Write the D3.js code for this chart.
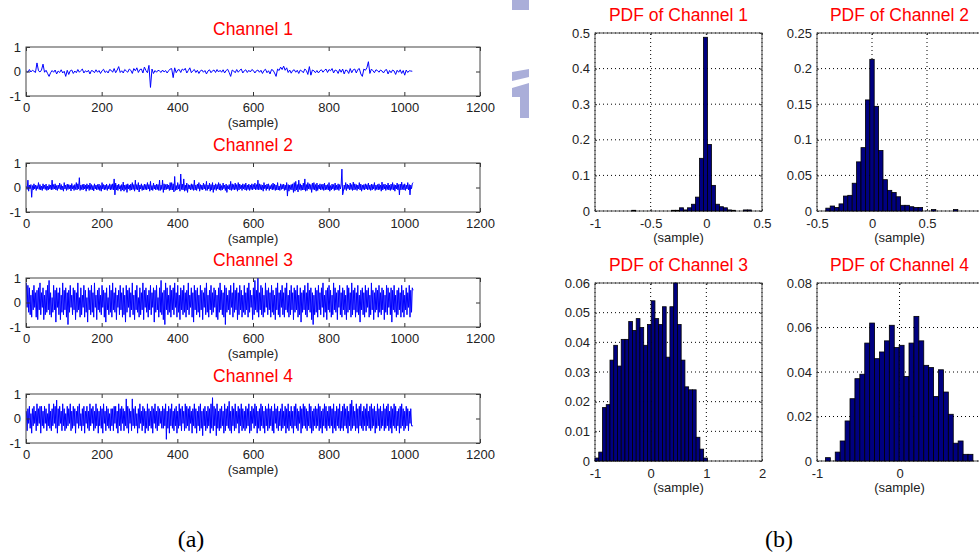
<!DOCTYPE html>
<html><head><meta charset="utf-8">
<script src="https://cdn.jsdelivr.net/npm/d3@7"></script>
<style>body{margin:0;background:#fff} svg{display:block}</style>
</head><body>
<svg id="c" width="979" height="555"></svg>
<script>
// ---------------- DATA ----------------
const channelNames = ["Channel 1", "Channel 2", "Channel 3", "Channel 4"];
const sampleTicks = [0, 200, 400, 600, 800, 1000, 1200];
const ampTicks = [-1, 0, 1];
const sampleStep = [4, 2, 2, 2]; // a value read every n samples, per channel

const ch1 = [
0.02,-0.03,0.08,-0.02,0.05,0.01,-0.04,0.35,0.03,-0.02,0.06,0.3,-0.03,0.05,-0.08,-0.2,
-0.05,0.04,-0.03,0.06,-0.1,0.02,-0.04,0.07,-0.06,0.01,-0.2,0.05,-0.12,0.03,0.06,-0.08,
0.02,-0.05,0.08,-0.03,0.04,0.1,-0.06,0.03,-0.02,0.05,-0.1,0.04,0.02,-0.05,0.07,-0.03,
0.04,-0.08,0.03,0.09,-0.04,0.02,-0.06,0.08,0.05,-0.03,0.12,-0.05,0.06,0.2,-0.04,0.03,
-0.06,0.08,0.02,-0.03,0.1,0.05,-0.08,0.12,0.03,0.15,-0.04,0.08,0.1,-0.06,0.18,0.04,
-0.05,0.25,-0.65,0.1,-0.08,0.04,-0.03,0.05,0.02,-0.04,0.06,-0.02,0.04,-0.06,0.03,0.1,
0.12,-0.25,0.15,-0.05,0.06,0.08,-0.04,0.1,0.05,0.13,-0.06,0.04,0.15,-0.05,0.03,0.08,
-0.04,0.05,-0.08,0.03,0.06,-0.03,0.04,-0.1,0.02,0.07,-0.05,0.03,0.06,-0.04,0.08,-0.02,
0.05,-0.03,0.07,-0.06,0.04,0.09,-0.04,-0.2,0.06,0.02,-0.05,0.08,-0.03,0.05,0.1,-0.06,
0.03,0.07,-0.04,0.05,-0.02,0.08,0.04,-0.06,0.03,0.06,-0.03,0.05,-0.08,0.04,0.09,-0.05,
0.03,-0.1,0.08,0.05,-0.06,-0.2,0.1,0.04,0.18,0.08,0.22,0.05,0.15,-0.04,0.06,-0.07,
0.04,0.07,-0.03,0.05,-0.08,0.06,0.02,-0.05,0.1,0.04,-0.12,0.2,-0.15,0.06,0.03,-0.05,
0.04,-0.06,0.03,0.07,-0.03,0.05,0.1,-0.04,0.08,0.03,0.12,-0.06,0.06,0.04,-0.08,0.09,
-0.03,0.1,-0.1,0.06,0.04,-0.08,0.12,-0.05,0.07,0.1,-0.06,0.08,0.12,-0.1,-0.2,0.1,
0.05,0.15,0.4,-0.08,0.1,0.03,-0.05,0.07,0.04,-0.03,0.06,0.02,-0.06,0.05,0.08,-0.1,
0.04,-0.05,0.06,0.02,-0.12,0.05,-0.03,0.07,-0.08,0.04,-0.15,0.06,-0.04,0.03,0.02,0.01];

const ch2 = [
0.05,-0.08,0.3,-0.15,0.1,-0.05,0.12,-0.4,0.08,-0.1,0.15,-0.06,0.1,-0.12,0.08,-0.05,
0.2,-0.08,0.12,-0.1,0.06,-0.12,0.15,-0.05,0.1,-0.08,0.14,-0.12,0.06,-0.1,0.12,-0.06,
0.1,-0.1,0.3,-0.08,0.12,-0.06,0.15,-0.1,0.08,-0.12,0.1,-0.05,0.18,-0.08,0.12,-0.1,
0.06,-0.15,0.2,-0.06,0.1,-0.12,0.14,-0.08,0.12,-0.05,0.1,-0.14,0.16,-0.06,0.08,-0.12,
0.12,-0.08,0.2,-0.1,0.15,-0.06,0.4,-0.12,0.1,-0.08,0.12,-0.1,0.14,-0.06,0.1,-0.15,
0.15,-0.05,0.1,-0.12,0.18,-0.08,0.12,-0.1,0.08,-0.14,0.15,-0.06,0.1,-0.1,0.12,-0.08,
0.14,-0.12,0.08,-0.15,0.2,-0.06,0.12,-0.1,0.1,-0.08,0.14,-0.12,0.08,-0.06,0.15,-0.1,
0.12,-0.08,0.15,-0.1,0.35,-0.3,0.18,-0.1,0.1,-0.12,0.14,-0.06,0.08,-0.15,0.12,-0.1,
0.22,-0.15,0.1,-0.08,0.12,-0.2,0.15,-0.06,0.1,-0.12,0.14,-0.1,0.2,-0.08,0.12,-0.15,
0.3,-0.08,0.12,-0.1,0.2,-0.18,0.1,-0.06,0.15,-0.12,0.08,-0.1,0.14,-0.08,0.12,-0.1,
0.2,-0.06,0.12,-0.15,0.25,-0.1,0.08,-0.12,0.18,-0.06,0.1,-0.1,0.14,-0.08,0.12,-0.12,
0.3,-0.12,0.1,-0.08,0.3,-0.2,0.15,-0.1,0.12,-0.08,0.14,-0.06,0.1,-0.12,0.2,-0.1,
0.2,-0.1,0.15,-0.18,0.45,-0.12,0.08,-0.1,0.2,-0.06,0.12,-0.15,0.55,-0.08,0.14,-0.1,
0.35,-0.15,0.1,-0.12,0.18,-0.2,0.12,-0.06,0.1,-0.1,0.15,-0.08,0.12,-0.12,0.3,-0.1,
0.1,-0.12,0.14,-0.05,0.2,-0.15,0.12,-0.08,0.1,-0.1,0.18,-0.06,0.12,-0.12,0.25,-0.12,
0.1,-0.06,0.18,-0.15,0.12,-0.1,0.2,-0.2,0.1,-0.08,0.15,-0.12,0.12,-0.06,0.2,-0.1,
0.15,-0.12,0.08,-0.1,0.18,-0.05,0.1,-0.12,0.14,-0.2,0.08,-0.06,0.12,-0.1,0.25,-0.12,
0.15,-0.08,0.12,-0.1,0.18,-0.08,0.12,-0.15,0.2,-0.1,0.14,-0.05,0.1,-0.12,0.15,-0.06,
0.12,-0.1,0.18,-0.12,0.1,-0.08,0.14,-0.12,0.1,-0.08,0.15,-0.1,0.12,-0.06,0.18,-0.1,
0.12,-0.08,0.3,-0.1,0.15,-0.08,0.12,-0.1,0.1,-0.15,0.2,-0.05,0.1,-0.12,0.14,-0.06,
0.15,-0.12,0.08,-0.06,0.12,-0.1,0.18,-0.08,0.14,-0.12,0.1,-0.1,0.2,-0.1,0.06,-0.12,
0.15,-0.08,0.12,-0.06,0.14,-0.12,0.1,-0.1,0.2,-0.35,0.12,-0.15,0.1,-0.08,0.12,-0.1,
0.15,-0.2,0.2,-0.15,0.25,-0.1,0.12,-0.18,0.3,-0.08,0.15,-0.12,0.1,-0.1,0.18,-0.1,
0.35,-0.15,0.12,-0.12,0.2,-0.06,0.15,-0.08,0.12,-0.2,0.18,-0.08,0.2,-0.1,0.12,-0.15,
0.18,-0.12,0.1,-0.06,0.15,-0.1,0.12,-0.08,0.14,-0.12,0.18,-0.1,0.1,-0.08,0.12,-0.1,
0.2,-0.15,0.08,-0.1,0.14,-0.06,0.12,-0.12,0.18,-0.1,0.1,-0.08,0.15,-0.12,0.12,-0.06,
0.1,0.75,-0.3,-0.15,0.1,-0.08,0.2,-0.12,0.14,-0.05,0.1,-0.1,0.18,-0.08,0.12,-0.12,
0.22,-0.1,0.15,-0.08,0.12,-0.12,0.1,-0.06,0.2,-0.1,0.14,-0.15,0.1,-0.08,0.12,-0.1,
0.15,-0.06,0.12,-0.1,0.18,-0.08,0.1,-0.12,0.14,-0.1,0.12,-0.06,0.2,-0.12,0.1,-0.08,
0.12,-0.1,0.15,-0.08,0.1,-0.15,0.22,-0.1,0.12,-0.06,0.14,-0.12,0.1,-0.08,0.18,-0.1,
0.1,-0.12,0.14,-0.08,0.2,-0.1,0.12,-0.15,0.1,-0.06,0.18,-0.1,0.12,-0.3,0.14,-0.1,
0.22,-0.08,0.12,-0.1,0.15,-0.12,0.1,-0.06,0.2,-0.1,0.12,-0.3,0.1,-0.05,0.15,0.2];

const ch3 = [
0.8,-0.2,0.7,-0.4,0.6,-0.5,0.3,-0.6,0.5,-0.3,0.7,-0.2,0.4,-0.6,0.5,-0.7,
0.6,-0.3,0.8,-0.5,0.4,-0.2,0.6,-0.7,0.3,-0.5,0.5,-0.4,0.7,-0.3,0.9,-0.5,
0.4,-0.6,0.2,-0.4,0.7,-0.3,0.5,-0.8,0.6,-0.2,0.4,-0.5,0.6,-0.7,0.3,-0.4,
0.8,-0.5,0.5,-0.3,0.6,-0.6,0.4,-0.9,0.5,-0.4,0.7,-0.2,0.3,-0.5,0.6,-0.3,
0.5,-0.7,0.4,-0.4,0.8,-0.3,0.2,-0.6,0.6,-0.5,0.3,-0.2,0.7,-0.6,0.5,-0.4,
0.2,-0.8,0.6,-0.3,0.5,-0.5,0.7,-0.4,0.4,-0.6,0.8,-0.2,0.3,-0.7,0.5,-0.3,
0.6,-0.4,0.3,-0.5,0.7,-0.2,0.5,-0.6,0.4,-0.8,0.6,-0.3,0.2,-0.5,0.7,-0.4,
0.5,-0.6,0.8,-0.3,0.4,-0.4,0.6,-0.7,0.3,-0.2,0.5,-0.5,0.7,-0.3,0.4,-0.6,
0.6,-0.5,0.3,-0.8,0.7,-0.4,0.5,-0.2,0.6,-0.6,0.4,-0.3,0.8,-0.5,0.3,-0.7,
0.5,-0.3,0.7,-0.4,0.2,-0.6,0.6,-0.5,0.4,-0.3,0.8,-0.7,0.5,-0.2,0.6,-0.4,
0.3,-0.6,0.5,-0.3,0.7,-0.5,0.4,-0.2,0.6,-0.8,0.5,-0.4,0.7,-0.3,0.2,-0.6,
0.6,-0.4,0.9,-0.5,0.4,-0.7,0.5,-0.9,0.8,-0.3,0.6,-0.5,0.3,-0.4,0.7,-0.6,
0.5,-0.3,0.6,-0.5,0.8,-0.2,0.4,-0.6,0.7,-0.4,0.3,-0.7,0.6,-0.3,0.5,-0.5,
0.7,-0.4,0.4,-0.6,0.5,-0.3,0.8,-0.5,0.3,-0.2,0.6,-0.6,0.4,-0.8,0.7,-0.3,
0.5,-0.5,0.6,-0.4,0.3,-0.6,0.7,-0.3,0.5,-0.7,0.4,-0.2,0.6,-0.5,0.8,-0.4,
0.3,-0.6,0.5,-0.3,0.7,-0.5,0.4,-0.4,0.6,-0.2,0.5,-0.6,0.3,-0.7,0.6,-0.4,
0.8,-0.3,0.5,-0.5,0.4,-0.6,0.7,-0.9,0.6,-0.4,0.3,-0.3,0.5,-0.5,0.7,-0.2,
0.4,-0.6,0.8,-0.4,0.5,-0.3,0.6,-0.7,0.4,-0.5,0.7,-0.3,0.5,-0.6,0.3,-0.4,
0.7,-0.5,0.4,-0.3,0.6,-0.6,0.8,-0.4,0.5,-0.2,0.3,-0.7,0.6,-0.5,0.9,-0.3,
0.5,-0.4,1.0,-0.6,0.4,-0.3,0.7,-0.5,0.6,-0.6,0.3,-0.4,0.8,-0.2,0.5,-0.5,
0.6,-0.3,0.4,-0.6,0.7,-0.4,0.5,-0.5,0.3,-0.7,0.6,-0.3,0.8,-0.5,0.4,-0.6,
0.5,-0.2,0.7,-0.5,0.4,-0.6,0.6,-0.3,0.8,-0.4,0.3,-0.6,0.5,-0.5,0.7,-0.3,
0.4,-0.7,0.6,-0.4,0.5,-0.3,0.7,-0.6,0.3,-0.5,0.6,-0.8,0.4,-0.4,0.5,-0.3,
0.7,-0.5,0.4,-0.6,0.8,-0.3,0.5,-0.4,0.6,-0.7,0.4,-0.9,0.3,-0.5,0.6,-0.4,
0.5,-0.6,0.7,-0.3,0.4,-0.5,0.6,-0.2,0.8,-0.6,0.3,-0.4,0.5,-0.7,0.6,-0.3,
0.7,-0.4,0.5,-0.6,0.3,-0.5,0.8,-0.3,0.6,-0.4,0.4,-0.7,0.5,-0.2,0.7,-0.5,
0.4,-0.6,0.6,-0.3,0.5,-0.5,0.3,-0.7,0.7,-0.4,0.6,-0.3,0.4,-0.6,0.8,-0.5,
0.5,-0.3,0.6,-0.6,0.4,-0.4,0.7,-0.5,0.3,-0.8,0.5,-0.3,0.6,-0.5,0.4,-0.6,
0.7,-0.4,0.5,-0.2,0.6,-0.6,0.3,-0.5,0.8,-0.3,0.5,-0.7,0.4,-0.4,0.6,-0.3,
0.5,-0.6,0.7,-0.4,0.4,-0.5,0.6,-0.3,0.5,-0.7,0.3,-0.4,0.7,-0.5,0.6,-0.2,
0.4,-0.5,0.6,-0.8,0.5,-0.3,0.7,-0.4,0.3,-0.6,0.5,-0.5,0.6,-0.3,0.4,-0.6,
0.7,-0.4,0.5,-0.6,0.3,-0.3,0.6,-0.5,0.4,-0.2,0.7,-0.6,0.5,-0.4,0.6,0.5];

const ch4 = [
0.3,-0.5,0.4,-0.2,0.5,-0.4,0.2,-0.6,0.4,-0.3,0.5,-0.2,0.3,-0.5,0.6,-0.3,
0.4,-0.2,0.5,-0.6,0.5,-0.3,0.3,-0.4,0.5,-0.2,0.4,-0.5,0.2,-0.3,0.6,-0.4,
0.3,-0.5,0.4,-0.3,0.6,-0.2,0.5,-0.4,0.75,-0.6,0.4,-0.3,0.5,-0.2,0.3,-0.5,
0.6,-0.3,0.4,-0.5,0.2,-0.4,0.5,-0.3,0.4,-0.2,0.6,-0.5,0.3,-0.4,0.5,-0.3,
0.4,-0.6,0.3,-0.2,0.5,-0.4,0.6,-0.3,0.2,-0.5,0.4,-0.3,0.5,-0.6,0.3,-0.2,
0.5,-0.4,0.3,-0.5,0.6,-0.3,0.4,-0.2,0.5,-0.5,0.3,-0.4,0.6,-0.3,0.4,-0.6,
0.3,-0.3,0.5,-0.4,0.4,-0.6,0.6,-0.2,0.3,-0.5,0.5,-0.3,0.4,-0.4,0.2,-0.5,
0.4,-0.3,0.4,-0.5,0.5,-0.2,0.5,-0.4,0.3,-0.6,0.6,-0.3,0.4,-0.5,0.5,-0.2,
0.4,-0.5,0.3,-0.3,0.8,-0.4,0.5,-0.6,0.4,-0.2,0.3,-0.5,0.8,-0.3,0.4,-0.4,
0.5,-0.3,0.2,-0.6,0.4,-0.4,0.6,-0.2,0.3,-0.5,0.5,-0.3,0.4,-0.6,0.3,-0.4,
0.6,-0.5,0.4,-0.3,0.3,-0.4,0.5,-0.6,0.4,-0.2,0.6,-0.4,0.3,-0.5,0.5,-0.3,
0.4,-0.2,0.3,-0.4,0.5,-0.4,0.4,-0.3,0.6,-0.85,0.3,-0.4,0.5,-0.6,0.4,-0.3,
0.6,-0.4,0.3,-0.5,0.4,-0.3,0.5,-0.6,0.3,-0.4,0.6,-0.3,0.4,-0.5,0.5,-0.2,
0.3,-0.5,0.6,-0.4,0.5,-0.3,0.4,-0.5,0.5,-0.2,0.3,-0.6,0.4,-0.3,0.6,-0.4,
0.4,-0.6,0.3,-0.3,0.5,-0.5,0.6,-0.4,0.3,-0.7,0.4,-0.3,0.5,-0.5,0.3,-0.4,
0.5,-0.3,0.4,-0.6,0.6,-0.4,0.85,-0.5,0.5,-0.3,0.4,-0.7,0.6,-0.4,0.3,-0.5,
0.4,-0.4,0.5,-0.3,0.3,-0.6,0.6,-0.5,0.4,-0.3,0.5,-0.4,0.7,-0.5,0.3,-0.6,
0.5,-0.3,0.4,-0.5,0.6,-0.4,0.3,-0.2,0.5,-0.6,0.4,-0.3,0.6,-0.5,0.4,-0.4,
0.3,-0.5,0.5,-0.4,0.4,-0.3,0.6,-0.6,0.3,-0.5,0.5,-0.2,0.4,-0.4,0.6,-0.3,
0.5,-0.6,0.3,-0.4,0.4,-0.5,0.6,-0.3,0.5,-0.4,0.3,-0.6,0.5,-0.3,0.4,-0.5,
0.6,-0.4,0.4,-0.3,0.5,-0.5,0.3,-0.6,0.6,-0.2,0.4,-0.4,0.5,-0.5,0.3,-0.3,
0.4,-0.5,0.6,-0.4,0.3,-0.3,0.5,-0.6,0.4,-0.4,0.6,-0.5,0.3,-0.3,0.5,-0.4,
0.3,-0.6,0.5,-0.3,0.6,-0.4,0.4,-0.5,0.3,-0.2,0.5,-0.6,0.4,-0.4,0.6,-0.3,
0.5,-0.4,0.4,-0.5,0.3,-0.3,0.6,-0.4,0.5,-0.6,0.3,-0.5,0.4,-0.3,0.5,-0.4,
0.4,-0.3,0.6,-0.5,0.5,-0.4,0.3,-0.6,0.4,-0.3,0.6,-0.4,0.5,-0.5,0.3,-0.3,
0.5,-0.4,0.5,-0.3,0.4,-0.6,0.6,-0.4,0.3,-0.5,0.5,-0.3,0.4,-0.4,0.6,-0.5,
0.3,-0.4,0.5,-0.5,0.6,-0.3,0.4,-0.4,0.5,-0.6,0.3,-0.3,0.6,-0.5,0.75,-0.4,
0.5,-0.3,0.3,-0.5,0.6,-0.4,0.4,-0.6,0.5,-0.3,0.6,-0.4,0.3,-0.5,0.5,-0.3,
0.4,-0.5,0.6,-0.3,0.3,-0.4,0.5,-0.5,0.6,-0.4,0.4,-0.3,0.5,-0.6,0.3,-0.4,
0.6,-0.3,0.4,-0.5,0.5,-0.4,0.3,-0.3,0.6,-0.5,0.4,-0.4,0.5,-0.3,0.6,-0.5,
0.3,-0.4,0.5,-0.6,0.4,-0.3,0.6,-0.4,0.5,-0.5,0.3,-0.3,0.4,-0.6,0.5,-0.4,
0.6,-0.3,0.4,-0.5,0.3,-0.4,0.5,-0.3,0.4,-0.5,0.3,-0.2,0.4,-0.3,-0.3,-0.3];

const histTitles = ["PDF of Channel 1", "PDF of Channel 2", "PDF of Channel 3", "PDF of Channel 4"];
const pdf1 = [0.002,0,0,0,0,0,0,0,0,0,0.002,0.002,0.009,0.003,0.009,0.019,0.039,0.148,0.488,0.187,0.072,0.019,0.012,0.009,0.003,0.002,0,0,0.003,0.003];
const pdf2 = [0.004,0.007,0.005,0.01,0.021,0.022,0.039,0.069,0.089,0.156,0.213,0.147,0.085,0.044,0.029,0.026,0.02,0.008,0.008,0.006,0.005,0.005,0,0,0.002,0,0,0,0,0.002];
const pdf3 = [0.001,0.003,0.018,0.019,0.034,0.039,0.032,0.041,0.041,0.047,0.044,0.048,0.045,0.039,0.046,0.054,0.048,0.046,0.052,0.035,0.052,0.06,0.046,0.034,0.025,0.024,0.024,0.008,0.004,0.001];
const pdf4 = [0.0015,0,0.004,0.009,0.018,0.028,0.037,0.039,0.053,0.062,0.046,0.049,0.054,0.061,0.051,0.052,0.038,0.053,0.065,0.054,0.043,0.042,0.029,0.041,0.031,0.021,0.008,0.009,0.003,0.003];
const binStart = [-0.67, -0.42, -1.0, -0.898];
const binWidth = [0.0358, 0.04, 0.0673, 0.0596];
const histXDomain = [[-1, 0.5], [-0.5, 1], [-1, 2], [-1, 1]];
const histXTicks = [[-1, -0.5, 0, 0.5], [-0.5, 0, 0.5], [-1, 0, 1, 2], [-1, 0]];
const histYTicks = [[0, 0.1, 0.2, 0.3, 0.4, 0.5], [0, 0.05, 0.1, 0.15, 0.2, 0.25],
                    [0, 0.01, 0.02, 0.03, 0.04, 0.05, 0.06], [0, 0.02, 0.04, 0.06, 0.08]];
const xLabel = "(sample)";
const panelLabels = ["(a)", "(b)"];

// ---------------- DRAWING ----------------
const svg = d3.select("#c");
const FONT = "'Liberation Sans', Arial, sans-serif";
const fmt = d => String(d);

// faint watermark in the gap between the panels
const wm = svg.append("g").attr("fill", "#aaaed9");
wm.append("path").attr("d", "M512,0L529,0L529,10L512,10Z");
wm.append("path").attr("d", "M512,72L529,69L529,77L512,81Z");
wm.append("path").attr("d", "M512,88L529,83L529,118L520,118L520,97L512,97Z");

function frame(g, xs, ys, xTicks, yTicks, tick, padB, grid) {
  const [x0, x1] = xs.range(), [y0, y1] = ys.range();
  if (grid) {
    g.append("g").selectAll("line").data(xTicks).join("line")
      .attr("x1", d => xs(d)).attr("x2", d => xs(d)).attr("y1", y0).attr("y2", y1)
      .attr("stroke", "#000").attr("stroke-width", 1).attr("stroke-dasharray", "1,3");
    g.append("g").selectAll("line").data(yTicks).join("line")
      .attr("y1", d => ys(d)).attr("y2", d => ys(d)).attr("x1", x0).attr("x2", x1)
      .attr("stroke", "#000").attr("stroke-width", 1).attr("stroke-dasharray", "1,3");
  }
  const axes = [
    g.append("g").attr("transform", `translate(0,${y0})`)
      .call(d3.axisBottom(xs).tickValues(xTicks).tickSize(-tick).tickPadding(padB).tickFormat(fmt)),
    g.append("g").attr("transform", `translate(0,${y1})`)
      .call(d3.axisTop(xs).tickValues(xTicks).tickSize(-tick).tickFormat("")),
    g.append("g").attr("transform", `translate(${x0},0)`)
      .call(d3.axisLeft(ys).tickValues(yTicks).tickSize(-tick).tickPadding(5).tickFormat(fmt)),
    g.append("g").attr("transform", `translate(${x1},0)`)
      .call(d3.axisRight(ys).tickValues(yTicks).tickSize(-tick).tickFormat(""))
  ];
  axes.forEach(a => {
    a.select(".domain").remove();
    a.attr("font-family", FONT).attr("font-size", 13);
    a.selectAll(".tick line").attr("stroke", "#333");
    a.selectAll(".tick text").attr("fill", "#222");
  });
  g.append("rect").attr("x", x0).attr("y", y1).attr("width", x1 - x0).attr("height", y0 - y1)
    .attr("fill", "none").attr("stroke", "#444").attr("stroke-width", 1);
}

// ---- (a) time series ----
const series = [ch1, ch2, ch3, ch4];
const lineTops = [47, 163, 278, 394];
const lineH = 49;
const xT = d3.scaleLinear().domain([0, 1200]).range([26, 480]);
series.forEach((vals, k) => {
  const top = lineTops[k];
  const yT = d3.scaleLinear().domain([-1, 1]).range([top + lineH, top]);
  const g = svg.append("g");
  g.append("path").datum(vals)
    .attr("fill", "none").attr("stroke", "#0000ff").attr("stroke-width", 1)
    .attr("d", d3.line().x((d, i) => xT(1 + i * sampleStep[k])).y(d => yT(d)));
  frame(g, xT, yT, sampleTicks, ampTicks, 4, 7, false);
  g.append("text").attr("x", (xT.range()[0] + xT.range()[1]) / 2).attr("y", top - 12)
    .attr("text-anchor", "middle").attr("font-family", FONT).attr("font-size", 17.5)
    .attr("fill", "#ff0000").text(channelNames[k]);
  g.append("text").attr("x", (xT.range()[0] + xT.range()[1]) / 2).attr("y", top + lineH + 31)
    .attr("text-anchor", "middle").attr("font-family", FONT).attr("font-size", 13)
    .attr("fill", "#222").text(xLabel);
});

// ---- (b) histograms ----
const pdfs = [pdf1, pdf2, pdf3, pdf4];
const colX = [[595, 762], [817, 982]];
const rowY = [[211, 33], [461, 283]];
pdfs.forEach((vals, k) => {
  const xs = d3.scaleLinear().domain(histXDomain[k]).range(colX[k % 2]);
  const yTicks = histYTicks[k];
  const ys = d3.scaleLinear().domain([0, yTicks[yTicks.length - 1]]).range(rowY[Math.floor(k / 2)]);
  const g = svg.append("g");
  frame(g, xs, ys, histXTicks[k], yTicks, 2, 8, true);
  g.append("g").selectAll("rect").data(vals).join("rect")
    .attr("x", (d, i) => xs(binStart[k] + i * binWidth[k]))
    .attr("width", xs(binStart[k] + binWidth[k]) - xs(binStart[k]))
    .attr("y", d => ys(d))
    .attr("height", d => ys(0) - ys(d))
    .attr("fill", "#000080").attr("stroke", "#000").attr("stroke-width", 0.8);
  const cx = (xs.range()[0] + xs.range()[1]) / 2;
  g.append("text").attr("x", cx).attr("y", ys.range()[1] - 12)
    .attr("text-anchor", "middle").attr("font-family", FONT).attr("font-size", 17.5)
    .attr("fill", "#ff0000").text(histTitles[k]);
  g.append("text").attr("x", cx).attr("y", ys.range()[0] + 31)
    .attr("text-anchor", "middle").attr("font-family", FONT).attr("font-size", 13)
    .attr("fill", "#222").text(xLabel);
});

// panel captions
svg.selectAll("text.cap").data(panelLabels).join("text").attr("class", "cap")
  .attr("x", (d, i) => [191, 779][i]).attr("y", 547)
  .attr("text-anchor", "middle").attr("font-family", "'Liberation Serif', 'Times New Roman', serif")
  .attr("font-size", 24).attr("fill", "#000").text(d => d);
</script>
</body></html>
